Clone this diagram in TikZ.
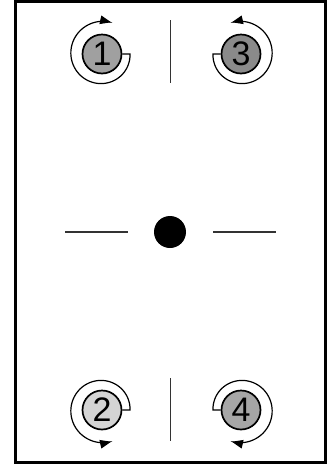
\documentclass[tikz,border=0pt]{standalone}
\usepackage{fontspec}
\newfontfamily\digitfont{Liberation Sans}
\usetikzlibrary{arrows.meta}
\definecolor{fillA}{HTML}{A0A0A0}
\definecolor{fillB}{HTML}{D4D4D4}
\definecolor{fillC}{HTML}{8A8A8A}
\definecolor{fillD}{HTML}{A6A6A6}
\tikzset{
  rotor/.style={circle, draw, line width=1.7pt, minimum size=39pt, inner sep=0pt,
    font=\digitfont\fontsize{34}{34}\selectfont},
  spin/.style={line width=1.2pt, -{Triangle[length=11pt,width=8.5pt]}},
  axisline/.style={line width=1.2pt, draw=black!80},
  frameline/.style={line width=3pt}
}
\begin{document}
\begin{tikzpicture}[x=1pt,y=-1pt]
\useasboundingbox (0,0) rectangle (333,467);
\draw[frameline] (15.5,1.5) rectangle (325.5,462.5);
% axes
\draw[axisline] (170.5,20) -- (170.5,83);
\draw[axisline] (170.5,378) -- (170.5,441);
\draw[axisline] (65,232) -- (128,232);
\draw[axisline] (213,232) -- (276,232);
\node[circle, fill=black, minimum size=32pt, inner sep=0pt] (hub) at (170,232) {};
% rotors
\node[rotor, fill=fillA] (r1) at (102,54) {1};
\node[rotor, fill=fillC] (r3) at (241,54) {3};
\node[rotor, fill=fillB] (r2) at (102,410) {2};
\node[rotor, fill=fillD] (r4) at (241,410) {4};
% spin arrows
\draw[spin] (r1.east) -- plot[smooth, domain=0:286, samples=80, variable=\t]
  ({102+(28+5*\t/286)*cos(\t)}, {54+(28+5*\t/286)*sin(\t)});
\draw[spin] (r3.west) -- plot[smooth, domain=0:286, samples=80, variable=\t]
  ({241+(28+5*\t/286)*cos(180-\t)}, {54+(28+5*\t/286)*sin(180-\t)});
\draw[spin] (r2.east) -- plot[smooth, domain=0:286, samples=80, variable=\t]
  ({102+(28+5*\t/286)*cos(-\t)}, {410+(28+5*\t/286)*sin(-\t)});
\draw[spin] (r4.west) -- plot[smooth, domain=0:286, samples=80, variable=\t]
  ({241+(28+5*\t/286)*cos(180+\t)}, {410+(28+5*\t/286)*sin(180+\t)});
\end{tikzpicture}
\end{document}
